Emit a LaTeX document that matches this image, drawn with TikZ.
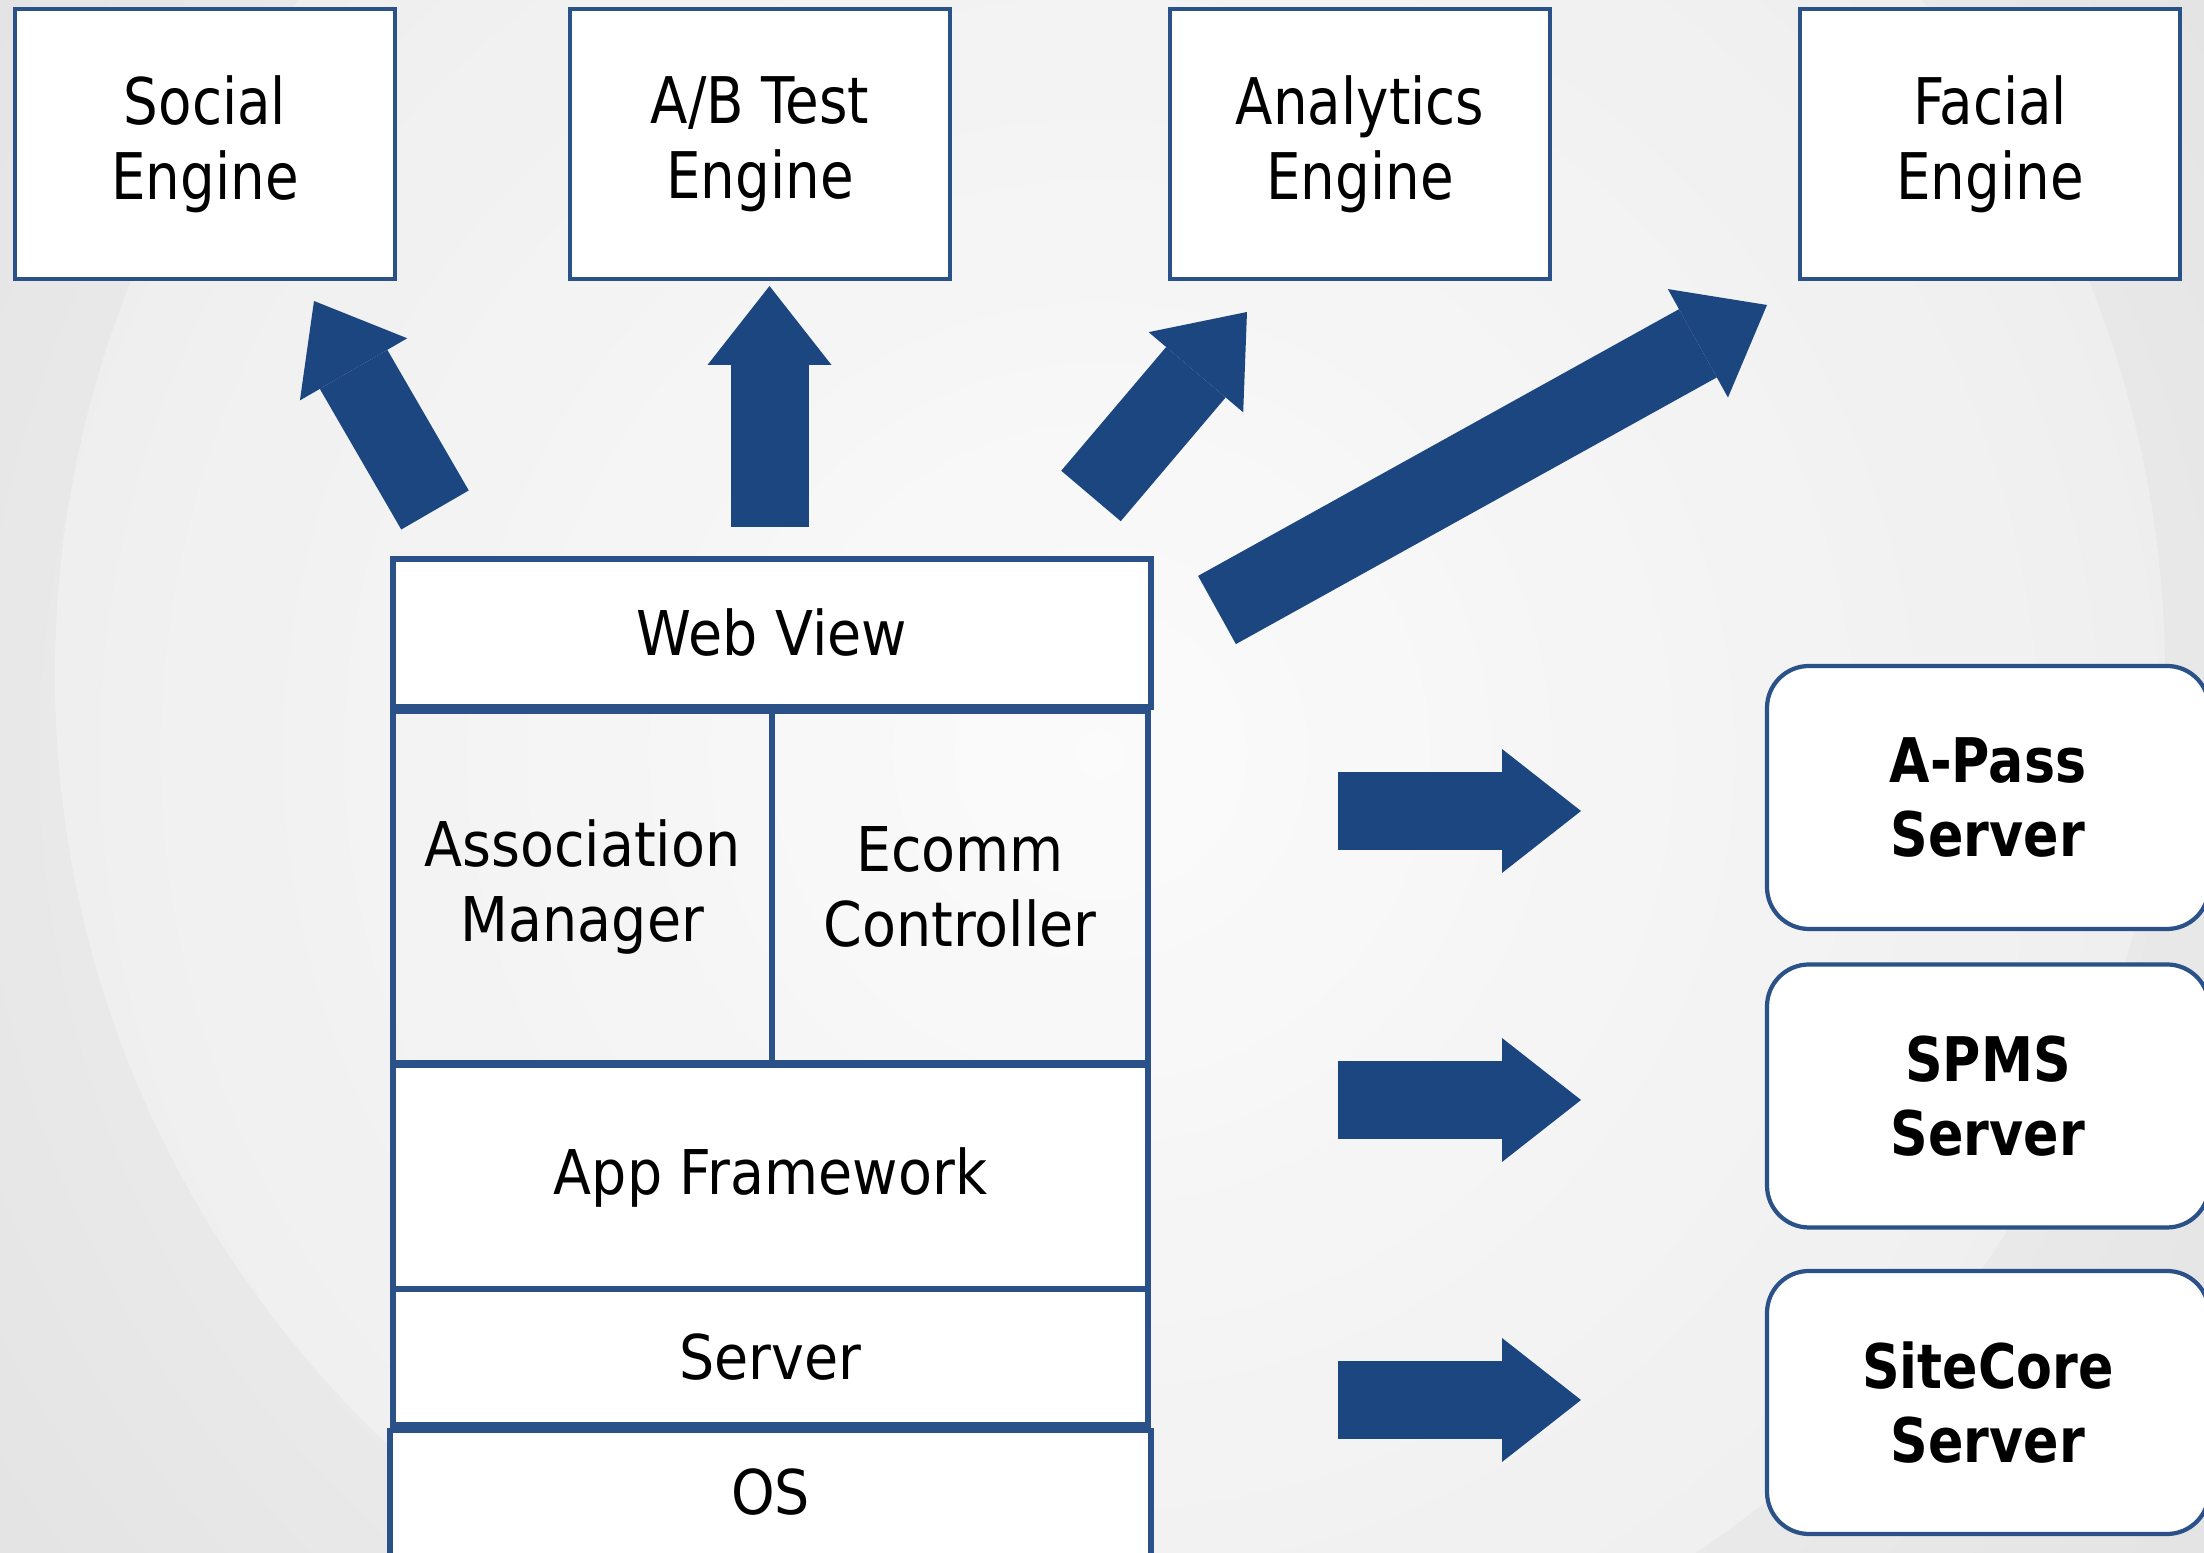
\documentclass[tikz,border=0pt]{standalone}
\usepackage{fontspec}
\usetikzlibrary{arrows.meta}
\newfontfamily\topfont[FakeStretch=0.85]{DejaVu Sans}
\newfontfamily\stackfont[FakeStretch=0.9]{DejaVu Sans}
\definecolor{navy}{HTML}{1B4680}
\definecolor{boxblue}{HTML}{2A5289}

\begin{document}
\begin{tikzpicture}[scale=1]
        % ================= 样式定义 =================
        \tikzset{
            % 顶部引擎方框:白底蓝边
            engine/.style={rectangle, draw=boxblue, line width=1.3pt, fill=white, minimum width=3.8cm, minimum height=2.7cm, align=center, font=\topfont\fontsize{18.3}{21.3}\selectfont},
            % 中间堆叠的层
            layer/.style={rectangle, draw=boxblue, line width=1.5pt, fill=white, inner sep=0pt, align=center, font=\stackfont\fontsize{17.55}{21.3}\selectfont},
            % 右侧圆角服务器框
            srvbox/.style={rectangle, rounded corners=0.42cm, draw=boxblue, line width=1.2pt, fill=white, minimum width=4.42cm, minimum height=2.63cm, align=center, font=\topfont\bfseries\fontsize{17.5}{21}\selectfont},
            % 粗的块状箭头
            bigarrow/.style={navy, line width=0.78cm, -{Triangle[width=1.24cm, length=0.79cm, line width=0pt]}}
        }

        % ================= 背景 =================
        \useasboundingbox (0,0) rectangle (22.04,15.53);
        \shade[inner color=gray!4, outer color=gray!40] (11,8) circle (28);
        \fill[white, opacity=0.3] (11.1,8.78) circle (10.55);

        % ================= 顶部四个引擎 =================
        \node[engine] (social) at (2.05,14.09) {Social\\Engine};
        \node[engine] (abtest) at (7.6,14.09) {A/B Test\\Engine};
        \node[engine] (analytics) at (13.6,14.09) {Analytics\\Engine};
        \node[engine] (facial) at (19.9,14.09) {Facial\\Engine};

        % ================= 中间的层次堆叠 =================
        \node[layer, minimum width=7.58cm, minimum height=1.48cm] (webview) at (7.72,9.20) {Web View};
        \node[layer, fill=none, minimum width=3.79cm, minimum height=3.52cm] (assoc) at (5.825,6.66) {Association\\Manager};
        \node[layer, fill=none, minimum width=3.76cm, minimum height=3.52cm] (ecomm) at (9.6,6.66) {Ecomm\\Controller};
        \node[layer, minimum width=7.55cm, minimum height=2.24cm] (appfw) at (7.705,3.76) {App Framework};
        \node[layer, minimum width=7.55cm, minimum height=1.36cm] (server) at (7.705,1.96) {Server};
        % OS 层伸出画面底边
        \node[layer, minimum width=7.61cm, anchor=north, text height=0.84cm, text depth=1cm] (os) at (7.705,1.25) {OS};

        % ================= 右侧服务器 =================
        \node[srvbox] (apass) at (19.88,7.555) {A-Pass\\Server};
        \node[srvbox] (spms) at (19.88,4.57) {SPMS\\Server};
        \node[srvbox] (sitecore) at (19.88,1.505) {SiteCore\\Server};

        % ================= 箭头端点 =================
        \coordinate (t1) at (4.35,10.43);
        \coordinate (h1) at (3.14,12.52);
        \coordinate (t2) at (7.695,10.26);
        \coordinate (h2) at (7.695,12.67);
        \coordinate (t3) at (10.91,10.57);
        \coordinate (h3) at (12.47,12.41);
        \coordinate (t4) at (12.17,9.43);
        \coordinate (h4) at (17.67,12.48);
        \coordinate (r1) at (13.38,7.42);
        \coordinate (q1) at (15.81,7.42);
        \coordinate (r2) at (13.38,4.53);
        \coordinate (q2) at (15.81,4.53);
        \coordinate (r3) at (13.38,1.53);
        \coordinate (q3) at (15.81,1.53);

        % 向上指向各引擎
        \draw[bigarrow] (t1) -- (h1);
        \draw[bigarrow] (t2) -- (h2);
        \draw[bigarrow] (t3) -- (h3);
        \draw[bigarrow] (t4) -- (h4);

        % 向右指向各服务器
        \draw[bigarrow] (r1) -- (q1);
        \draw[bigarrow] (r2) -- (q2);
        \draw[bigarrow] (r3) -- (q3);

    \end{tikzpicture}
\end{document}
